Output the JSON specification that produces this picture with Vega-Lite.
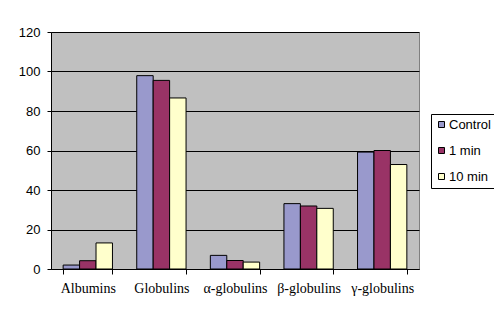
{
  "$schema": "https://vega.github.io/schema/vega-lite/v6.json",
  "width": 368,
  "height": 237,
  "autosize": {"type": "none"},
  "padding": {"left": 51, "top": 32, "right": 75, "bottom": 40},
  "background": "white",
  "data": {"values": [
    {"fraction": "Albumins", "series": "Control", "value": 2},
    {"fraction": "Albumins", "series": "1 min", "value": 4.2},
    {"fraction": "Albumins", "series": "10 min", "value": 13.2},
    {"fraction": "Globulins", "series": "Control", "value": 97.9},
    {"fraction": "Globulins", "series": "1 min", "value": 95.5},
    {"fraction": "Globulins", "series": "10 min", "value": 86.6},
    {"fraction": "α-globulins", "series": "Control", "value": 6.9},
    {"fraction": "α-globulins", "series": "1 min", "value": 4.3},
    {"fraction": "α-globulins", "series": "10 min", "value": 3.5},
    {"fraction": "β-globulins", "series": "Control", "value": 33.1},
    {"fraction": "β-globulins", "series": "1 min", "value": 31.9},
    {"fraction": "β-globulins", "series": "10 min", "value": 30.7},
    {"fraction": "γ-globulins", "series": "Control", "value": 59.2},
    {"fraction": "γ-globulins", "series": "1 min", "value": 60},
    {"fraction": "γ-globulins", "series": "10 min", "value": 52.9}
  ]},
  "mark": {"type": "bar", "stroke": "black", "strokeWidth": 1},
  "encoding": {
    "x": {
      "field": "fraction", "type": "nominal", "sort": null,
      "scale": {"paddingInner": 0.33, "paddingOuter": 0.165},
      "axis": {
        "title": null, "labelAngle": 0, "domainColor": "black", "tickColor": "black",
        "tickBand": "extent", "tickSize": 5, "labelFont": "Liberation Serif",
        "labelFontSize": 14, "labelColor": "black", "labelPadding": 7
      }
    },
    "xOffset": {"field": "series", "type": "nominal", "sort": ["Control", "1 min", "10 min"], "scale": {"paddingInner": 0, "paddingOuter": 0}},
    "y": {
      "field": "value", "type": "quantitative",
      "scale": {"domain": [0, 120], "nice": false},
      "axis": {
        "title": null, "values": [0, 20, 40, 60, 80, 100, 120], "grid": true,
        "gridColor": "black", "gridOpacity": 1, "gridWidth": 1,
        "domainColor": "black", "tickColor": "black", "tickSize": 4,
        "labelFont": "Liberation Sans", "labelFontSize": 13, "labelColor": "black",
        "labelPadding": 7
      }
    },
    "fill": {
      "field": "series", "type": "nominal",
      "sort": ["Control", "1 min", "10 min"],
      "scale": {"domain": ["Control", "1 min", "10 min"], "range": ["#9999CC", "#993366", "#FFFFCC"]},
      "legend": {
        "title": null, "orient": "none", "legendX": 380, "legendY": 82,
        "strokeColor": "black", "fillColor": "white", "padding": 4,
        "symbolType": "square", "symbolSize": 36, "symbolStrokeColor": "black",
        "symbolStrokeWidth": 1, "labelFont": "Liberation Sans", "labelFontSize": 13,
        "labelColor": "black", "rowPadding": 12, "labelOffset": 1
      }
    }
  },
  "config": {
    "view": {"fill": "#C0C0C0", "stroke": "#808080", "strokeWidth": 1},
    "legend": {"symbolOpacity": 1}
  }
}
